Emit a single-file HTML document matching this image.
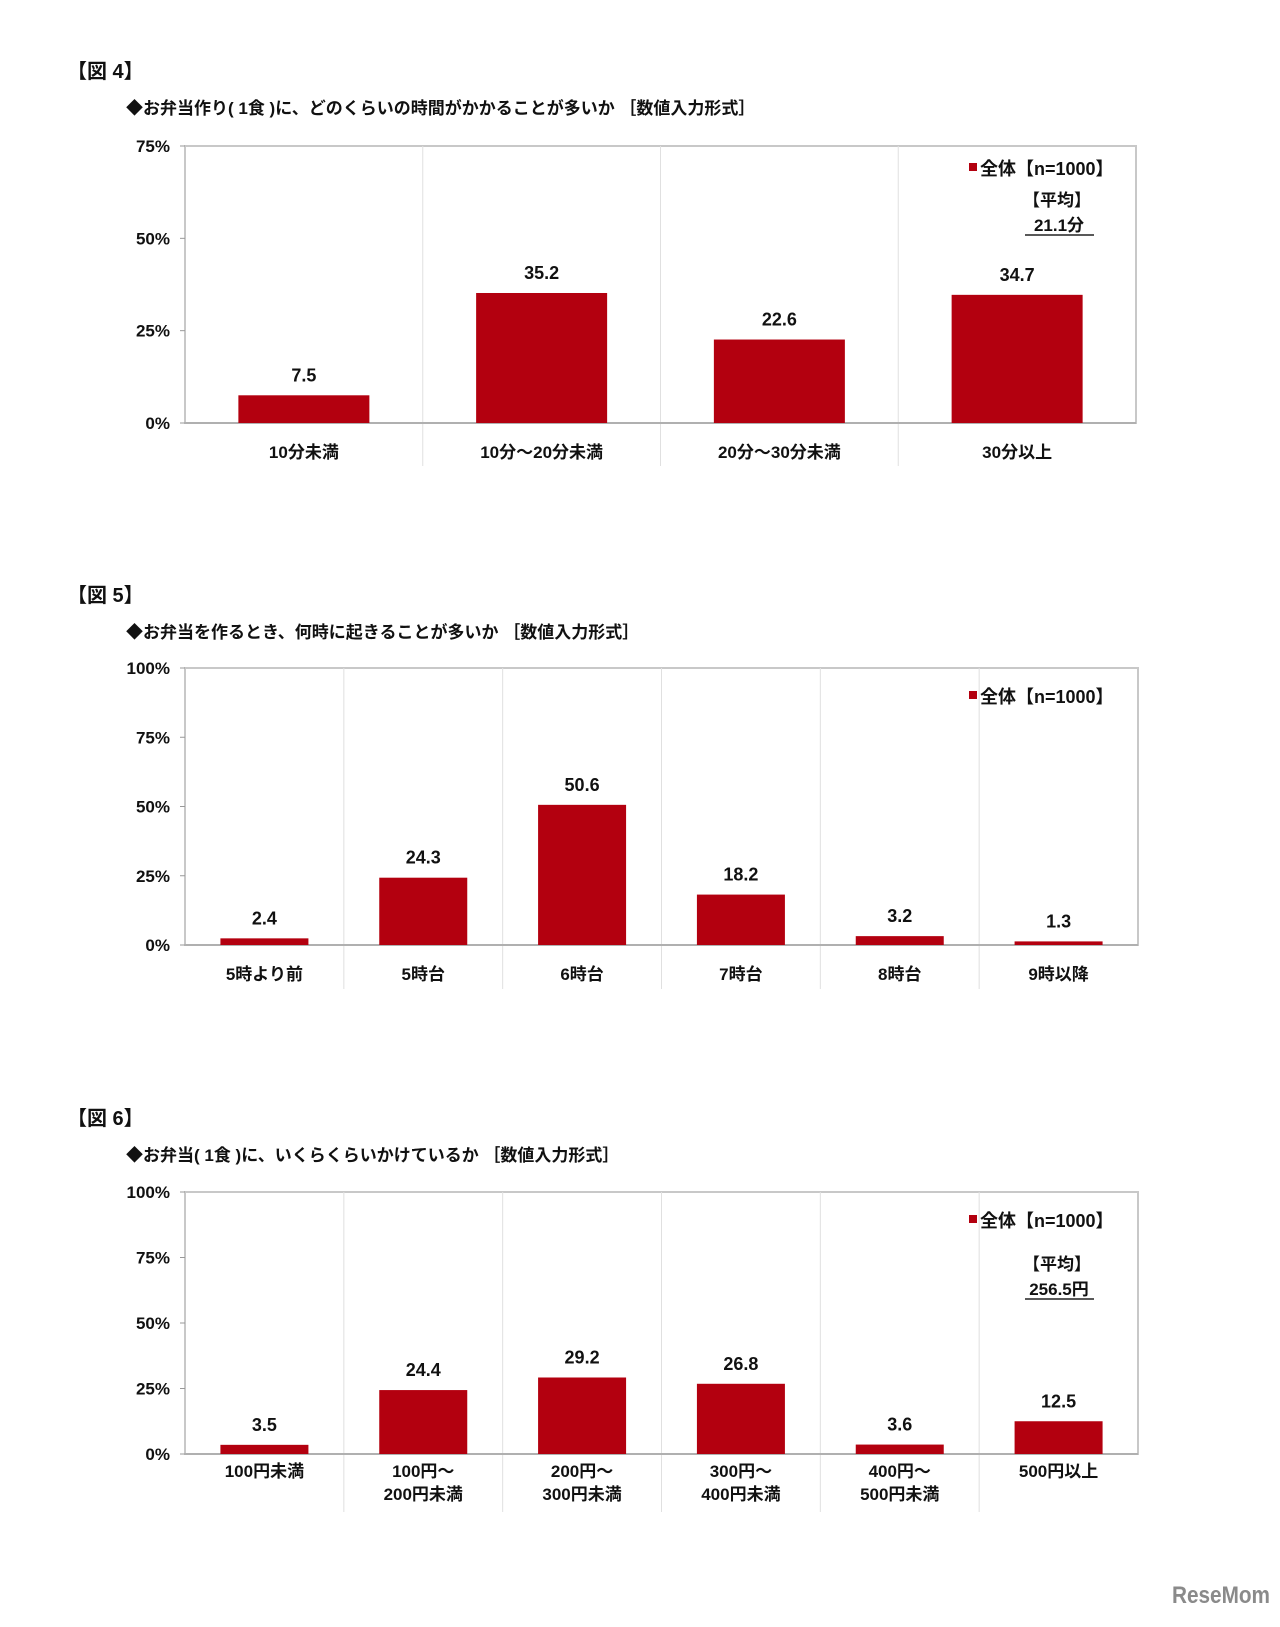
<!DOCTYPE html>
<html><head><meta charset="utf-8">
<style>
body{margin:0;background:#fff;width:1280px;height:1622px;overflow:hidden;font-family:"Liberation Sans","Noto Sans CJK JP",sans-serif;}
svg text{font-family:"Liberation Sans","Noto Sans CJK JP",sans-serif;}
</style></head>
<body>
<svg id="s" width="1280" height="1622" xmlns="http://www.w3.org/2000/svg">
<text x="1172" y="1603" font-size="24" font-weight="bold" fill="#8a8a8a" textLength="98" lengthAdjust="spacingAndGlyphs">ReseMom</text>
</svg>
<script>
const cats4=["10分未満","10分～20分未満","20分～30分未満","30分以上"];
const vals4=[7.5,35.2,22.6,34.7];
const ticks4=[0,25,50,75];
const cats5=["5時より前","5時台","6時台","7時台","8時台","9時以降"];
const vals5=[2.4,24.3,50.6,18.2,3.2,1.3];
const ticks5=[0,25,50,75,100];
const cats6=[["100円未満"],["100円～","200円未満"],["200円～","300円未満"],["300円～","400円未満"],["400円～","500円未満"],["500円以上"]];
const vals6=[3.5,24.4,29.2,26.8,3.6,12.5];
const ticks6=[0,25,50,75,100];

const svg=document.getElementById('s');
const NS="http://www.w3.org/2000/svg";
function mk(tag,attrs,parent){const e=document.createElementNS(NS,tag);for(const k in attrs)e.setAttribute(k,attrs[k]);(parent||svg).appendChild(e);return e;}
function txt(x,y,s,size,anchor,parent){const t=mk('text',{x:x,y:y,'font-size':size,'font-weight':'bold','text-anchor':anchor||'middle',fill:'#111'},parent);t.textContent=s;return t;}

function chart(o){
  const g=mk('g',{});
  
  
  const fig=txt(67,o.figY,o.fig,20,'start',g);
  
  
  const sub=txt(126,o.subY,o.sub,17,'start',g);
  
  
  const L=185,R=o.R,T=o.T,B=o.B,max=o.ticks[o.ticks.length-1];
  const y=v=>B-(v/max)*(B-T);
  const n=o.cats.length,w=(R-L)/n;
  const x=i=>L+w*i;
  const frame=mk('rect',{x:L,y:T,width:R-L,height:B-T,fill:'none',stroke:'#c8c8c8','stroke-width':2},g);
  
  
  for(let i=1;i<n;i++){
    const ln=mk('line',{x1:x(i),x2:x(i),y1:T,y2:o.sepB,stroke:'#e0e0e0','stroke-width':1},g);
    
    
  }
  mk('line',{x1:L,x2:R,y1:B,y2:B,stroke:'#b0b0b0','stroke-width':2},g);
  o.ticks.forEach(t=>{
    const tl=txt(170,y(t)+6,t+'%',17,'end',g);
    
    
    mk('line',{x1:L-5,x2:L,y1:y(t),y2:y(t),stroke:'#999'},g);
  });
  o.vals.forEach((v,i)=>{
    const cx=x(i)+w/2;
    const b=mk('rect',{x:cx-o.bw/2,y:y(v),width:o.bw,height:B-y(v),fill:'#b3000f'},g);
    
    
    const vl=txt(cx,y(v)-14,v.toFixed(1),18,'middle',g);
    
    
    const c=o.cats[i];const lines=Array.isArray(c)?c:[c];
    lines.forEach((s,j)=>{
      const cl=txt(cx,o.labY+j*23,s,17,'middle',g);
      
      
    });
  });
  const lg=mk('rect',{x:969,y:o.legY-12,width:8,height:8,fill:'#b3000f'},g);
  
  
  const lt=txt(980,o.legY,'全体【n=1000】',18,'start',g);
  
  
  if(o.avg){
    const a1=txt(1057,o.avgY,'【平均】',17,'middle',g);
    
    
    const a2=txt(1059,o.avgY+25,o.avg,17,'middle',g);
    
    
    mk('line',{x1:1025,x2:1094,y1:o.avgY+29,y2:o.avgY+29,stroke:'#222','stroke-width':1.5},g);
  }
}
chart({name:'figure-4-chart',fig:'【図 4】',figY:78,sub:'◆お弁当作り( 1食 )に、どのくらいの時間がかかることが多いか ［数値入力形式］',subY:114,
  cats:cats4,vals:vals4,ticks:ticks4,R:1136,T:146,B:423,sepB:466,bw:131,labY:458,legY:175,avg:'21.1分',avgY:206});
chart({name:'figure-5-chart',fig:'【図 5】',figY:602,sub:'◆お弁当を作るとき、何時に起きることが多いか ［数値入力形式］',subY:638,
  cats:cats5,vals:vals5,ticks:ticks5,R:1138,T:668,B:945,sepB:989,bw:88,labY:980,legY:703});
chart({name:'figure-6-chart',fig:'【図 6】',figY:1125,sub:'◆お弁当( 1食 )に、いくらくらいかけているか ［数値入力形式］',subY:1161,
  cats:cats6,vals:vals6,ticks:ticks6,R:1138,T:1192,B:1454,sepB:1512,bw:88,labY:1477,legY:1227,avg:'256.5円',avgY:1270});
</script>
</body></html>
